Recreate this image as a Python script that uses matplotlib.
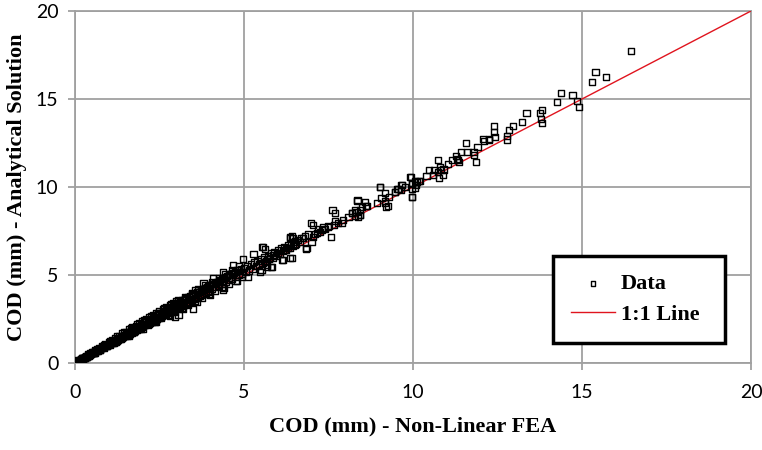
import matplotlib.pyplot as plt

# COD values: Non-Linear FEA (x) vs Analytical Solution (y)
fea_low = [0.02, 0.05, 0.08, 0.10, 0.12, 0.15, 0.18, 0.20, 0.22, 0.25, 0.28, 0.30, 0.33, 0.35, 0.38,
           0.40, 0.43, 0.45, 0.48, 0.50, 0.53, 0.55, 0.58, 0.60, 0.63, 0.65, 0.68, 0.70, 0.73, 0.75,
           0.78, 0.80, 0.83, 0.85, 0.88, 0.90, 0.93, 0.95, 0.98]
ana_low = [0.02, 0.06, 0.08, 0.12, 0.11, 0.17, 0.20, 0.19, 0.25, 0.27, 0.30, 0.31, 0.37, 0.34, 0.42,
           0.43, 0.45, 0.50, 0.49, 0.55, 0.56, 0.60, 0.59, 0.66, 0.67, 0.70, 0.71, 0.78, 0.77, 0.80,
           0.85, 0.84, 0.90, 0.88, 0.95, 0.98, 0.96, 1.04, 1.02]

fea_1 = [1.00, 1.02, 1.05, 1.08, 1.10, 1.12, 1.15, 1.18, 1.20, 1.23, 1.25, 1.28, 1.30, 1.33, 1.35,
         1.38, 1.40, 1.43, 1.45, 1.48, 1.50, 1.53, 1.55, 1.58, 1.60, 1.63, 1.65, 1.68, 1.70, 1.73,
         1.75, 1.78, 1.80, 1.83, 1.85, 1.88, 1.90, 1.93, 1.95, 1.98]
ana_1 = [1.10, 1.05, 1.15, 1.12, 1.20, 1.16, 1.25, 1.22, 1.32, 1.27, 1.38, 1.30, 1.42, 1.36, 1.48,
         1.43, 1.55, 1.47, 1.58, 1.52, 1.66, 1.58, 1.70, 1.62, 1.77, 1.68, 1.80, 1.72, 1.88, 1.78,
         1.92, 1.83, 1.98, 1.88, 2.04, 1.93, 2.10, 1.98, 2.15, 2.05]

fea_2 = [2.00, 2.02, 2.05, 2.08, 2.10, 2.12, 2.15, 2.18, 2.20, 2.22, 2.25, 2.28, 2.30, 2.33, 2.35,
         2.38, 2.40, 2.43, 2.45, 2.48, 2.50, 2.53, 2.55, 2.58, 2.60, 2.63, 2.65, 2.68, 2.70, 2.73,
         2.75, 2.78, 2.80, 2.83, 2.85, 2.88, 2.90, 2.93, 2.95, 2.98]
ana_2 = [2.20, 2.08, 2.30, 2.16, 2.35, 2.20, 2.40, 2.25, 2.46, 2.30, 2.50, 2.36, 2.56, 2.40, 2.60,
         2.47, 2.70, 2.52, 2.75, 2.58, 2.80, 2.62, 2.85, 2.68, 2.92, 2.72, 2.96, 2.78, 3.02, 2.82,
         3.08, 2.88, 3.12, 2.92, 3.18, 2.98, 3.22, 3.02, 3.28, 3.08]

fea_3 = [3.00, 3.03, 3.06, 3.09, 3.12, 3.15, 3.18, 3.21, 3.24, 3.27, 3.30, 3.33, 3.36, 3.39, 3.42,
         3.45, 3.48, 3.51, 3.54, 3.57, 3.60, 3.63, 3.66, 3.69, 3.72, 3.75, 3.78, 3.81, 3.84, 3.87,
         3.90, 3.93, 3.96, 3.99, 3.48, 3.06, 2.96]
ana_3 = [3.35, 3.12, 3.40, 3.20, 3.45, 3.26, 3.55, 3.30, 3.60, 3.38, 3.66, 3.42, 3.72, 3.50, 3.80,
         3.55, 3.85, 3.62, 3.90, 3.68, 4.00, 3.75, 4.05, 3.80, 4.10, 3.88, 4.18, 3.92, 4.25, 4.00,
         4.30, 4.05, 4.36, 4.10, 3.05, 2.73, 2.63]

fea_4 = [4.00, 4.05, 4.10, 4.15, 4.20, 4.25, 4.30, 4.35, 4.40, 4.45, 4.50, 4.55, 4.60, 4.65, 4.70,
         4.75, 4.80, 4.85, 4.90, 4.95, 3.55, 3.80, 4.09, 4.39, 4.68, 4.98, 4.39]
ana_4 = [4.45, 4.20, 4.50, 4.30, 4.62, 4.40, 4.72, 4.50, 4.80, 4.58, 4.95, 4.70, 5.05, 4.80, 5.12,
         4.88, 5.25, 5.00, 5.32, 5.08, 4.15, 4.53, 4.81, 5.19, 5.59, 5.89, 4.15]

# extra points filling the dense band below x = 5
fea_band = [0.10, 0.20, 0.30, 0.40, 0.50, 0.60, 0.70, 0.80, 0.90, 1.00, 1.10, 1.20, 1.30, 1.40, 1.50,
            1.60, 1.70, 1.80, 1.90, 2.00, 2.10, 2.20, 2.30, 2.40, 2.50, 2.60, 2.70, 2.80, 2.90, 3.00,
            0.15, 0.35, 0.55, 0.75, 0.95, 1.15, 1.35, 1.55, 1.75, 1.95, 2.15, 2.35, 2.55, 2.75, 2.95,
            3.15, 3.35, 3.55, 3.75, 3.95, 4.15, 4.35, 4.55, 4.75, 4.95,
            3.05, 3.25, 3.45, 3.65, 3.85, 4.05, 4.25, 4.45, 4.65, 4.85,
            3.15, 3.35, 3.55, 3.75, 3.95, 4.15, 4.35, 4.55, 4.75,
            0.25, 0.45, 0.65, 0.85, 1.05, 1.25, 1.45, 1.65, 1.85, 2.05, 2.25, 2.45, 2.65, 2.85,
            3.05, 3.25, 3.45, 3.65, 3.85, 4.05, 4.25, 4.45, 4.65, 4.85,
            1.20, 1.60, 2.00, 2.40, 2.80, 3.20, 3.60, 4.00, 4.40, 4.80]
ana_band = [0.14, 0.25, 0.36, 0.48, 0.60, 0.72, 0.84, 0.95, 1.08, 1.20, 1.32, 1.43, 1.55, 1.68, 1.78,
            1.90, 2.02, 2.12, 2.25, 2.36, 2.48, 2.58, 2.70, 2.82, 2.95, 3.05, 3.15, 3.30, 3.40, 3.50,
            0.15, 0.35, 0.56, 0.76, 0.96, 1.15, 1.36, 1.56, 1.76, 1.95, 2.17, 2.36, 2.55, 2.76, 2.92,
            3.15, 3.32, 3.52, 3.72, 3.90, 4.12, 4.30, 4.50, 4.68, 4.90,
            3.50, 3.65, 3.90, 4.05, 4.25, 4.50, 4.65, 4.90, 5.10, 5.30,
            3.42, 3.60, 3.78, 4.12, 4.35, 4.55, 4.78, 4.98, 5.18,
            0.30, 0.55, 0.78, 1.02, 1.26, 1.50, 1.74, 1.96, 2.20, 2.42, 2.64, 2.86, 3.10, 3.32,
            3.55, 3.75, 3.98, 4.20, 4.40, 4.62, 4.85, 5.05, 5.28, 5.50,
            1.18, 1.56, 1.95, 2.34, 2.70, 3.08, 3.50, 3.88, 4.28, 4.65]

fea_5 = [5.00, 5.05, 5.10, 5.15, 5.20, 5.25, 5.30, 5.35, 5.40, 5.45, 5.50, 5.55, 5.60, 5.65, 5.70,
         5.75, 5.80, 5.85, 5.90, 5.95, 5.28, 5.54, 5.62, 5.13, 5.47, 5.57, 5.62, 5.82, 5.67, 5.52,
         5.87, 5.77, 5.67, 5.79]
ana_5 = [5.40, 5.15, 5.50, 5.25, 5.60, 5.35, 5.72, 5.50, 5.80, 5.60, 5.92, 5.70, 6.00, 5.80, 6.10,
         5.90, 6.25, 6.00, 6.30, 6.10, 6.19, 6.61, 6.46, 4.90, 5.19, 6.61, 5.76, 5.47, 5.47, 5.28,
         6.14, 5.95, 5.57, 5.47]

fea_6 = [6.00, 6.05, 6.10, 6.15, 6.20, 6.25, 6.30, 6.35, 6.40, 6.45, 6.50, 6.55, 6.60, 6.70, 6.80,
         6.90, 6.36, 6.46, 6.83, 6.36, 6.12, 6.01, 6.16, 6.41, 6.41, 6.36, 6.75, 6.66, 6.85, 6.51,
         6.31, 6.21]
ana_6 = [6.40, 6.20, 6.50, 6.35, 6.60, 6.45, 6.70, 6.55, 6.80, 6.65, 6.90, 6.75, 7.00, 7.10, 7.20,
         7.30, 7.14, 7.09, 6.48, 5.97, 5.85, 6.23, 5.85, 5.95, 7.22, 7.09, 7.09, 6.89, 6.52, 6.70,
         6.52, 6.42]

fea_7 = [6.98, 7.05, 7.15, 7.25, 7.05, 7.00, 7.57, 7.79, 7.66, 7.49, 7.40, 7.69, 7.62, 7.69, 7.10,
         7.30, 7.50, 7.20, 7.35, 7.89, 7.94, 8.09]
ana_7 = [7.94, 7.82, 7.40, 7.46, 7.18, 6.89, 7.14, 7.97, 7.84, 7.74, 7.60, 8.09, 8.69, 8.51, 7.35,
         7.55, 7.80, 7.60, 7.70, 7.94, 8.13, 8.31]

fea_8 = [8.19, 8.33, 8.43, 8.28, 8.38, 8.36, 8.61, 8.93, 9.17, 9.27, 8.58, 8.63, 8.48, 8.43, 8.28,
         8.19, 8.43, 8.36, 9.02, 9.07, 9.17, 9.17, 9.20, 9.30, 9.47, 9.54, 9.64, 9.67, 9.02, 9.57,
         9.47, 9.66, 9.76, 9.91, 9.96, 10.11, 10.21, 9.96, 10.06]
ana_8 = [8.51, 8.60, 8.41, 8.35, 8.31, 9.20, 8.92, 9.11, 9.11, 8.92, 9.16, 8.92, 8.88, 8.69, 8.69,
         8.54, 8.41, 9.26, 9.98, 9.36, 9.64, 9.20, 8.88, 9.45, 9.72, 9.87, 9.83, 10.11, 10.02, 9.87,
         9.73, 10.11, 9.98, 10.55, 10.21, 10.30, 10.36, 9.45, 9.93]

fea_hi = [9.94, 9.96, 9.96, 9.96, 10.16, 10.06, 10.09, 10.63, 10.47, 10.40, 10.60, 10.75, 10.81, 10.90,
          10.83, 10.88, 10.78, 10.75, 11.03, 11.17, 11.31, 11.34, 11.36, 11.27, 11.41, 11.57, 11.61,
          11.79, 11.80, 11.86, 11.91, 12.09, 12.26, 12.77, 12.77, 12.08, 12.26, 12.43, 12.40, 12.83,
          12.40, 12.95, 13.23, 13.81, 13.79, 13.76, 13.81, 13.36, 14.25, 14.85, 14.92, 14.38, 14.72,
          15.30, 15.40, 15.70, 16.44]
ana_hi = [10.59, 10.17, 9.87, 9.45, 10.34, 10.34, 10.11, 10.95, 10.95, 10.64, 10.70, 11.52, 11.15, 11.00,
          10.95, 10.66, 10.53, 10.85, 11.32, 11.53, 11.57, 11.52, 11.42, 11.76, 12.01, 12.48, 11.99,
          11.99, 11.84, 11.40, 12.27, 12.60, 12.65, 12.90, 12.70, 12.71, 12.71, 12.86, 13.11, 13.24,
          13.47, 13.47, 13.71, 13.62, 13.86, 14.19, 14.38, 14.22, 14.81, 14.89, 14.55, 15.36, 15.23,
          15.97, 16.53, 16.25, 17.73]

x_fea = fea_low + fea_1 + fea_2 + fea_3 + fea_4 + fea_band + fea_5 + fea_6 + fea_7 + fea_8 + fea_hi
y_ana = ana_low + ana_1 + ana_2 + ana_3 + ana_4 + ana_band + ana_5 + ana_6 + ana_7 + ana_8 + ana_hi

line_x = [0, 20]
line_y = [0, 20]
ticks = [0, 5, 10, 15, 20]

fig = plt.figure(figsize=(7.62, 4.5), dpi=100)
ax = fig.add_axes([75 / 762, 1 - 363 / 450, 676 / 762, 352 / 450])

ax.scatter(x_fea, y_ana, marker='s', s=20, facecolors='none', edgecolors='black',
           linewidths=1.0, zorder=4, label='Data')
ax.plot(line_x, line_y, color='#e0141e', lw=1.0, zorder=3, label='1:1 Line')

ax.set_xlim(0, 20)
ax.set_ylim(0, 20)
ax.set_xticks(ticks)
ax.set_yticks(ticks)
ax.grid(True, color='#a0a0a0', lw=1.3)
ax.set_axisbelow(True)
for side in ['top', 'right', 'left', 'bottom']:
    ax.spines[side].set_color('#a0a0a0')
    ax.spines[side].set_linewidth(1.3)
ax.tick_params(direction='out', length=5, width=1.3, color='#a0a0a0', labelsize=14)
ax.tick_params(axis='x', pad=10)
ax.tick_params(axis='y', pad=7)
for lab in ax.get_xticklabels() + ax.get_yticklabels():
    lab.set_fontfamily('Lato')

lab_font = dict(family='Liberation Serif', weight='bold', size=16)
ax.set_xlabel('COD (mm) - Non-Linear FEA', labelpad=11, **lab_font)
ax.set_ylabel('COD (mm) - Analytical Solution', labelpad=6, **lab_font)

leg = ax.legend(loc='lower left', bbox_to_anchor=(0.707, 0.058, 0.254, 0.246), mode='expand',
                prop=dict(family='Liberation Serif', weight='bold', size=16),
                fancybox=False, framealpha=1, edgecolor='black', borderpad=0.8,
                labelspacing=0.45, handlelength=2.0, handletextpad=0.25, borderaxespad=0,
                markerscale=0.7)
leg.get_frame().set_linewidth(2.5)

fig.savefig('out.png', dpi=100)
